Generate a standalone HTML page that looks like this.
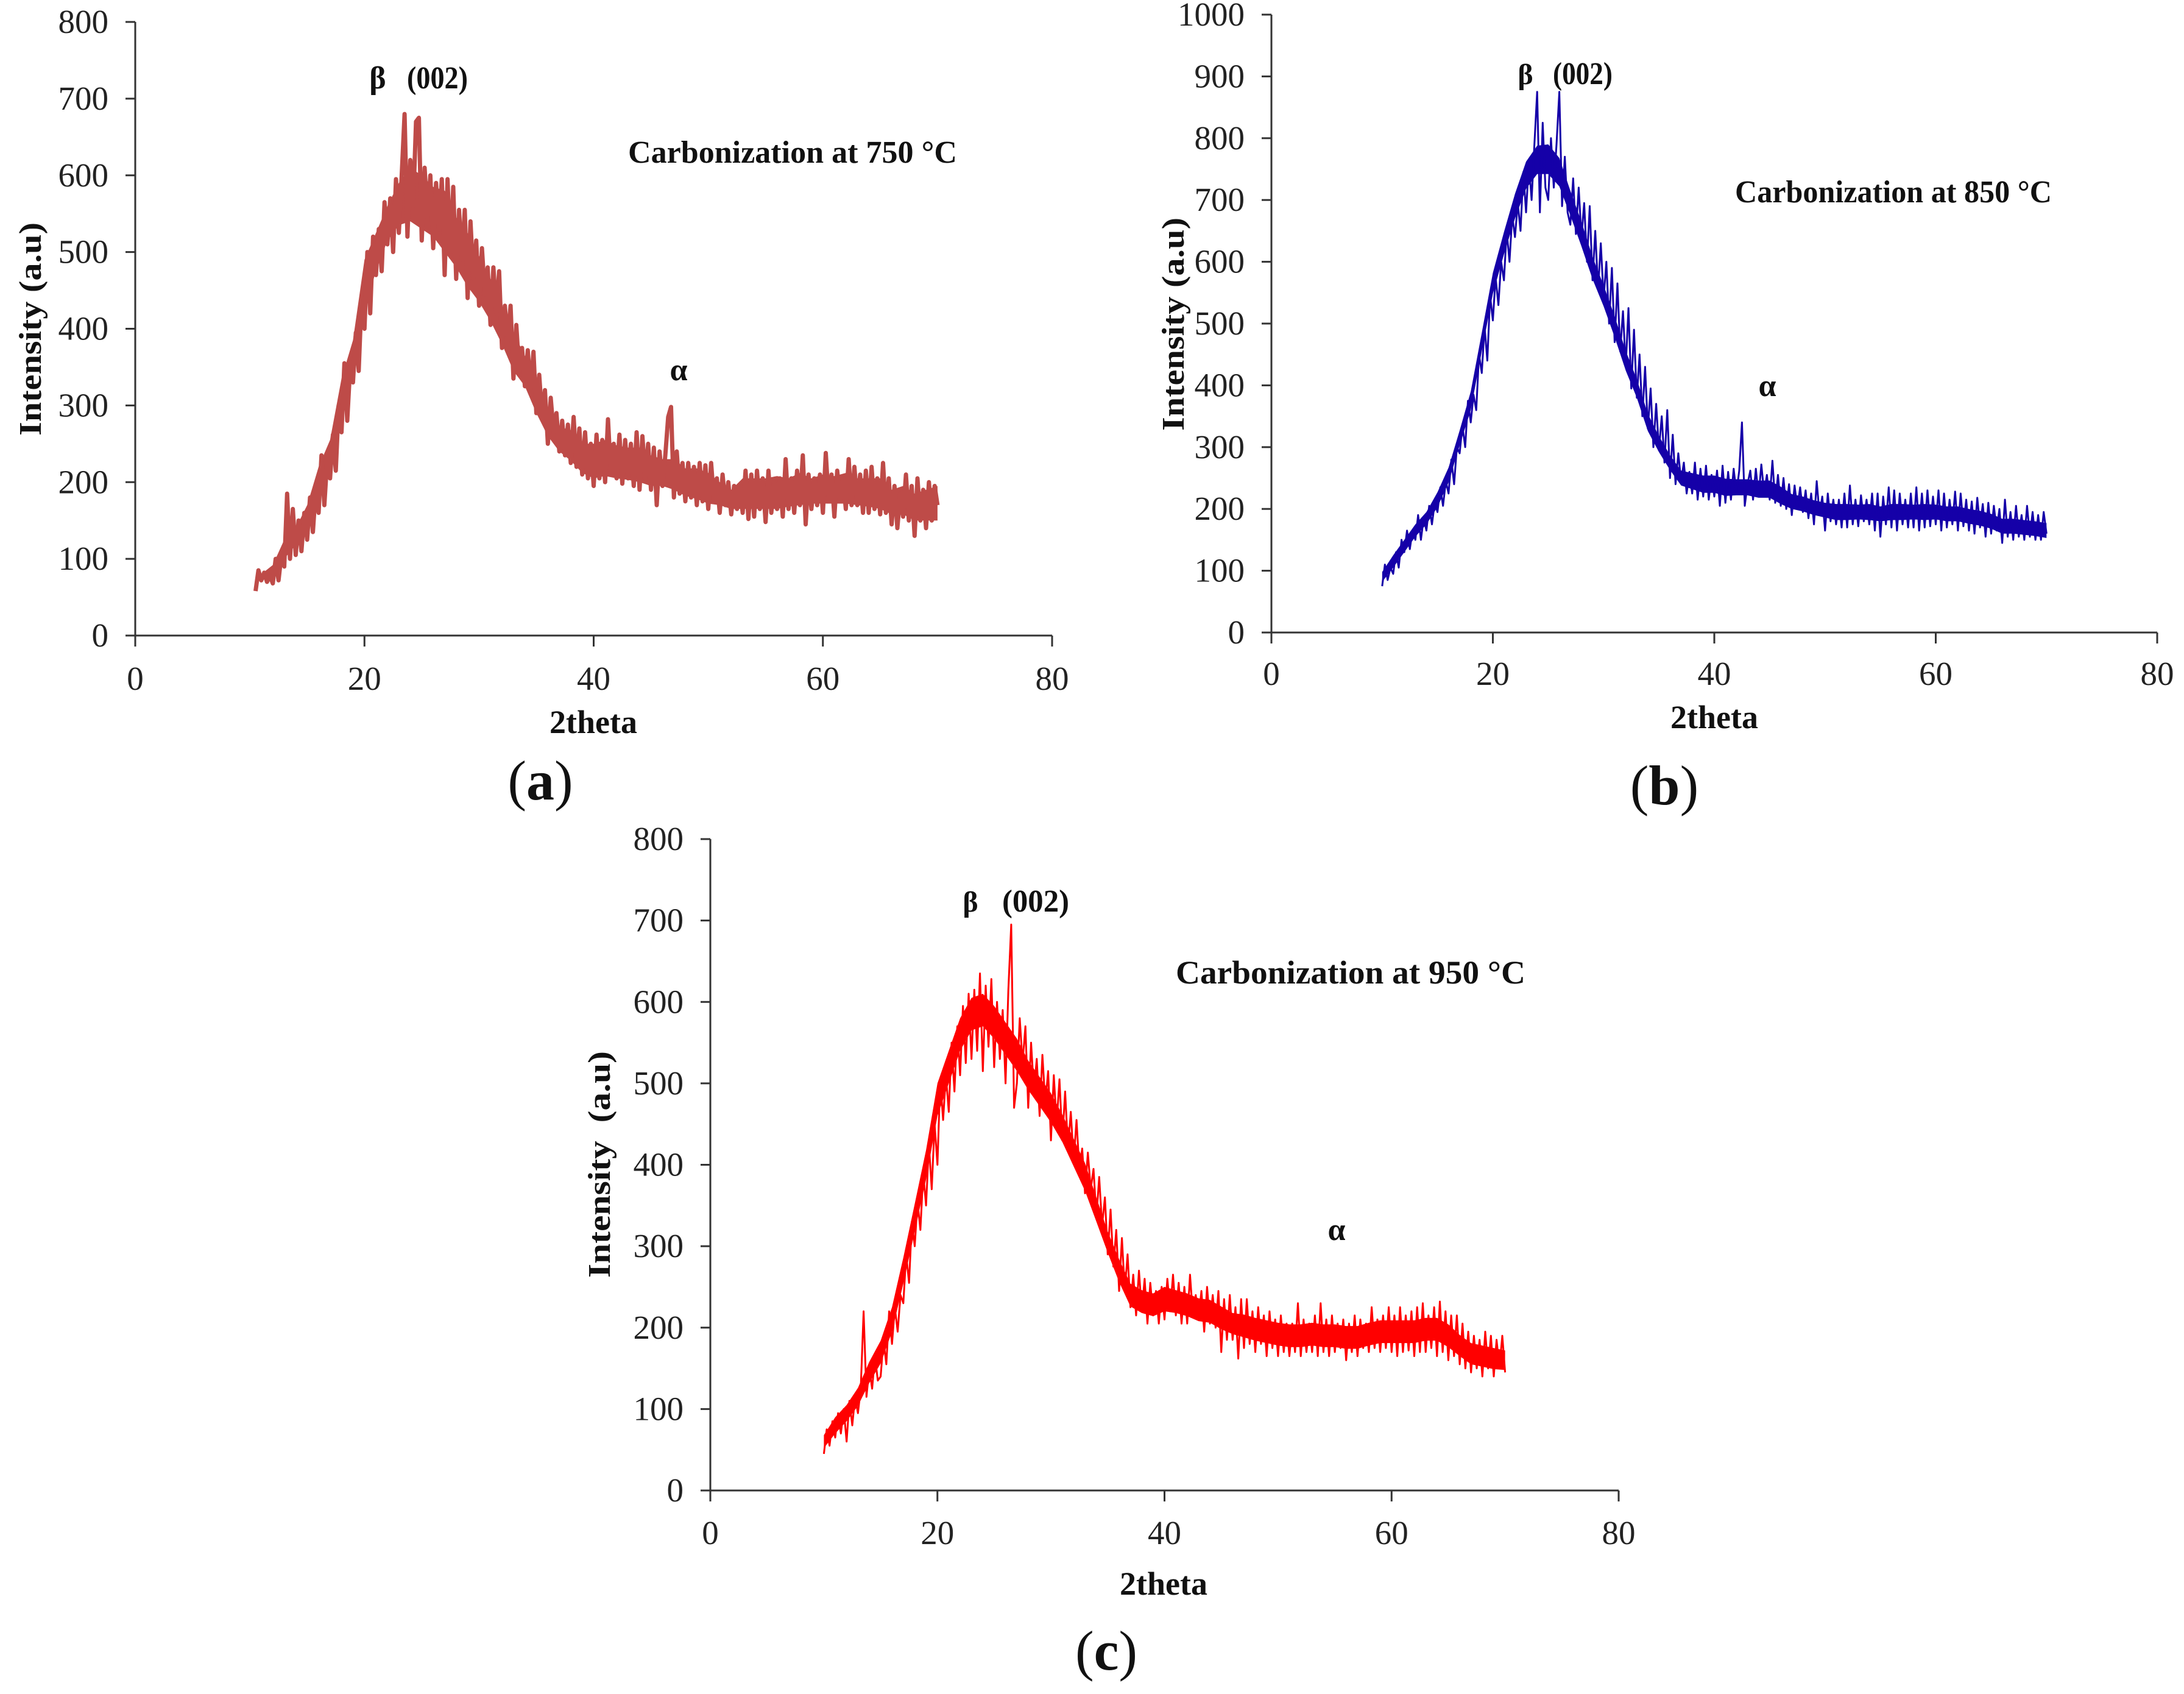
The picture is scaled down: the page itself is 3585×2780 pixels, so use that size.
<!DOCTYPE html>
<html lang="en">
<head>
<meta charset="utf-8">
<title>XRD patterns at three carbonization temperatures</title>
<style>
html,body{margin:0;padding:0;background:#fff;}
#figure{display:block;width:3585px;height:2780px;background:#fff;}
text{font-family:"Liberation Serif","DejaVu Serif",serif;fill:#111;}
.tick{font-size:55px;fill:#222;}
.bold{font-weight:bold;}
</style>
</head>
<body>
<svg id="figure" xmlns="http://www.w3.org/2000/svg" width="3585" height="2780" viewBox="0 0 3585 2780">

<g id="panel-a"></g>
<g id="panel-b"></g>
<g id="panel-c"></g>

<!-- Panel a text -->
<text class="bold" font-size="52" text-anchor="middle" transform="translate(67,540) rotate(-90)" textLength="350" lengthAdjust="spacingAndGlyphs">Intensity (a.u)</text>
<text class="bold" font-size="54" text-anchor="middle" x="974" y="1203">2theta</text>
<text class="bold" font-size="52" text-anchor="middle" x="620" y="145">β</text>
<text class="bold" font-size="52" text-anchor="middle" x="718" y="145" textLength="100" lengthAdjust="spacingAndGlyphs">(002)</text>
<text class="bold" font-size="52" text-anchor="middle" x="1114" y="624">α</text>
<text class="bold" font-size="52" x="1031" y="267" textLength="540" lengthAdjust="spacingAndGlyphs">Carbonization at 750 °C</text>
<text font-size="92" text-anchor="middle" x="887" y="1312">(<tspan class="bold">a</tspan>)</text>

<!-- Panel b text -->
<text class="bold" font-size="52" text-anchor="middle" transform="translate(1943,532) rotate(-90)" textLength="350" lengthAdjust="spacingAndGlyphs">Intensity (a.u)</text>
<text class="bold" font-size="54" text-anchor="middle" x="2814" y="1195">2theta</text>
<text class="bold" font-size="48" text-anchor="middle" x="2504" y="138">β</text>
<text class="bold" font-size="52" text-anchor="middle" x="2598" y="138" textLength="98" lengthAdjust="spacingAndGlyphs">(002)</text>
<text class="bold" font-size="52" text-anchor="middle" x="2901" y="650">α</text>
<text class="bold" font-size="52" x="2848" y="332" textLength="520" lengthAdjust="spacingAndGlyphs">Carbonization at 850 °C</text>
<text font-size="92" text-anchor="middle" x="2732" y="1320">(<tspan class="bold">b</tspan>)</text>

<!-- Panel c text -->
<text class="bold" font-size="52" text-anchor="middle" transform="translate(1001,1911) rotate(-90)" textLength="372" lengthAdjust="spacingAndGlyphs" xml:space="preserve">Intensity  (a.u)</text>
<text class="bold" font-size="54" text-anchor="middle" x="1910" y="2617">2theta</text>
<text class="bold" font-size="48" text-anchor="middle" x="1593" y="1496">β</text>
<text class="bold" font-size="52" text-anchor="middle" x="1700" y="1496" textLength="110" lengthAdjust="spacingAndGlyphs">(002)</text>
<text class="bold" font-size="52" text-anchor="middle" x="2194" y="2035">α</text>
<text class="bold" font-size="54" x="1930" y="1614" textLength="574" lengthAdjust="spacingAndGlyphs">Carbonization at 950 °C</text>
<text font-size="92" text-anchor="middle" x="1816" y="2740">(<tspan class="bold">c</tspan>)</text>
</svg>

<script>
const xTicks = [0, 20, 40, 60, 80];
const yTicks800 = [0, 100, 200, 300, 400, 500, 600, 700, 800];
const yTicks1000 = [0, 100, 200, 300, 400, 500, 600, 700, 800, 900, 1000];

const twoTheta = [
10,10.25,10.5,10.75,11,11.25,11.5,11.75,12,12.25,12.5,12.75,13,13.25,13.5,13.75,14,14.25,14.5,14.75,
15,15.25,15.5,15.75,16,16.25,16.5,16.75,17,17.25,17.5,17.75,18,18.25,18.5,18.75,19,19.25,19.5,19.75,
20,20.25,20.5,20.75,21,21.25,21.5,21.75,22,22.25,22.5,22.75,23,23.25,23.5,23.75,24,24.25,24.5,24.75,
25,25.25,25.5,25.75,26,26.25,26.5,26.75,27,27.25,27.5,27.75,28,28.25,28.5,28.75,29,29.25,29.5,29.75,
30,30.25,30.5,30.75,31,31.25,31.5,31.75,32,32.25,32.5,32.75,33,33.25,33.5,33.75,34,34.25,34.5,34.75,
35,35.25,35.5,35.75,36,36.25,36.5,36.75,37,37.25,37.5,37.75,38,38.25,38.5,38.75,39,39.25,39.5,39.75,
40,40.25,40.5,40.75,41,41.25,41.5,41.75,42,42.25,42.5,42.75,43,43.25,43.5,43.75,44,44.25,44.5,44.75,
45,45.25,45.5,45.75,46,46.25,46.5,46.75,47,47.25,47.5,47.75,48,48.25,48.5,48.75,49,49.25,49.5,49.75,
50,50.25,50.5,50.75,51,51.25,51.5,51.75,52,52.25,52.5,52.75,53,53.25,53.5,53.75,54,54.25,54.5,54.75,
55,55.25,55.5,55.75,56,56.25,56.5,56.75,57,57.25,57.5,57.75,58,58.25,58.5,58.75,59,59.25,59.5,59.75,
60,60.25,60.5,60.75,61,61.25,61.5,61.75,62,62.25,62.5,62.75,63,63.25,63.5,63.75,64,64.25,64.5,64.75,
65,65.25,65.5,65.75,66,66.25,66.5,66.75,67,67.25,67.5,67.75,68,68.25,68.5,68.75,69,69.25,69.5,69.75,
70];

const intensityA = [
null,null,58,85, 72,82,70,78, 68,100,72,105, 90,185,100,165, 105,150,110,160,
125,180,135,190, 160,235,170,230, 205,262,215,300, 265,355,280,350, 330,395,345,440,
400,500,420,520, 470,530,475,565, 510,570,500,595, 525,600,680,520, 620,560,670,675,
515,610,545,600, 505,590,530,595, 470,595,500,585, 465,555,490,555, 440,540,465,515,
430,505,445,480, 405,480,420,475, 375,430,385,430, 335,405,345,375, 325,372,320,370,
290,340,285,320, 250,310,265,290, 240,280,235,275, 225,285,220,270, 210,265,205,250,
195,262,205,255, 200,282,210,250, 205,262,198,255, 205,250,195,265, 190,260,205,250,
190,245,170,240, 195,235,285,298, 180,240,185,225, 175,225,180,220, 170,225,175,222,
165,225,175,205, 160,210,170,200, 158,195,165,195, 160,215,152,210, 155,215,165,205,
148,215,160,200, 165,205,155,230, 165,205,160,215, 170,235,145,210, 165,205,170,210,
160,238,175,210, 155,215,175,205, 165,230,170,220, 170,210,160,215, 160,220,165,205,
158,225,160,205, 145,195,140,185, 155,210,150,195, 130,205,150,190, 140,200,150,195,
170];

const intensityB = [
75,110,85,105, 95,130,105,150, 130,165,135,165, 150,190,150,185, 165,205,175,210,
195,235,205,245, 225,280,240,300, 290,335,300,375, 340,385,360,450, 420,495,440,545,
505,575,530,600, 570,650,600,675, 640,695,650,745, 680,760,700,790, 875,680,825,720,
700,800,720,790, 875,690,770,680, 660,735,645,720, 640,695,600,690, 570,650,555,630,
540,600,500,590, 470,565,455,520, 430,525,395,490, 380,450,350,430, 330,395,300,370,
295,350,275,360, 250,320,240,290, 245,275,225,260, 225,275,215,265, 220,270,215,255,
220,262,205,270, 210,260,215,265, 225,262,340,205, 240,262,215,265, 220,272,225,255,
215,278,210,255, 205,250,200,240, 190,238,200,235, 195,230,185,225, 175,245,190,220,
165,225,180,215, 175,215,170,225, 170,238,175,215, 172,222,180,215, 175,225,165,225,
155,220,175,235, 170,230,165,225, 175,215,170,225, 170,235,165,225, 170,230,172,220,
175,230,165,225, 170,215,175,228, 165,225,172,215, 165,212,160,218, 170,208,155,210,
160,205,165,200, 145,215,155,195, 150,205,155,190, 150,205,155,195, 150,190,150,195,
160];

const intensityC = [
45,75,55,85, 65,95,70,100, 60,110,80,115, 95,125,220,115, 150,125,165,135,
140,185,155,220, 180,225,195,240, 230,290,255,330, 300,355,320,390, 350,425,370,450,
400,505,455,510, 465,550,490,570, 510,595,525,610, 530,615,540,635, 515,620,545,628,
520,600,530,590, 500,615,695,470, 500,580,525,570, 470,550,490,530, 460,535,475,515,
430,510,450,505, 430,490,420,465, 405,455,395,420, 365,415,370,395, 335,385,325,360,
290,345,275,320, 245,310,245,290, 225,265,215,270, 220,260,205,255, 215,245,205,250,
210,260,220,265, 215,255,205,250, 205,265,215,240, 210,245,195,250, 205,240,200,245,
170,235,185,240, 185,225,162,235, 175,235,180,220, 170,225,180,215, 165,220,175,210,
165,215,170,205, 165,205,170,230, 165,210,170,205, 170,215,165,230, 170,210,165,215,
170,205,175,210, 160,205,170,215, 165,210,175,205, 170,225,175,210, 170,215,175,225,
170,215,165,225, 170,215,172,220, 165,225,170,230, 170,215,175,225, 165,232,170,220,
160,215,165,215, 155,205,150,195, 145,190,150,185, 140,195,150,190, 140,185,150,190,
145];

/* Solid core of each noisy band, read at whole-degree angles */
const coreTheta = [
10,11,12,13,14,15,16,17,18,19,20,21,22,23,24,25,26,27,28,29,
30,31,32,33,34,35,36,37,38,39,40,41,42,43,44,45,46,47,48,49,
50,51,52,53,54,55,56,57,58,59,60,61,62,63,64,65,66,67,68,69,70];

const coreLowA = [
null,72,80,100,118,140,172,215,280,345,425,475,515,535,540,530,520,500,480,455,
435,410,380,345,325,290,260,240,228,212,205,208,205,203,200,195,195,190,182,178,
172,170,165,165,165,165,165,168,170,172,172,172,172,170,168,165,158,158,150,150,150];
const coreHighA = [
null,80,92,125,140,170,220,255,335,385,490,525,560,590,610,600,585,580,545,525,
495,465,425,395,365,330,295,272,268,250,250,255,248,245,245,235,230,230,218,218,
212,200,190,205,205,205,208,205,212,205,210,208,212,205,205,205,190,195,185,190,195];

const coreLowB = [
82,105,130,155,175,203,243,303,360,455,548,612,670,718,742,742,722,675,625,572,
528,478,424,380,326,292,263,238,232,226,226,221,222,222,218,218,208,200,196,190,
186,182,182,183,182,180,182,182,183,182,183,180,180,176,173,168,160,160,158,156,153];
const coreHighB = [
98,125,150,175,195,227,267,327,390,485,582,648,710,762,788,790,768,715,665,608,
562,512,456,410,354,318,287,262,258,254,254,249,248,248,246,246,236,224,220,214,
210,208,208,207,208,204,208,208,207,208,207,204,204,200,197,192,184,184,182,180,177];

const coreLowC = [
52,70,85,104,132,156,195,254,318,382,460,500,540,565,570,555,535,515,492,472,
452,428,398,368,330,292,256,226,218,214,220,218,214,208,206,198,192,188,184,181,
178,176,176,178,176,176,174,174,178,181,181,181,181,184,184,176,165,155,152,149,148];
const coreHighC = [
68,90,105,126,158,184,225,286,352,418,500,540,580,605,610,595,575,555,528,508,
488,462,432,402,360,318,284,254,246,242,250,246,242,236,234,226,218,216,212,209,
206,204,204,206,204,204,202,202,206,209,209,209,209,212,212,204,191,181,178,175,172];

const SVG_NS = 'http://www.w3.org/2000/svg';

function makeScale(d0, d1, r0, r1) {
  return function (v) { return r0 + (v - d0) / (d1 - d0) * (r1 - r0); };
}

function addLine(parent, x1, y1, x2, y2) {
  const el = document.createElementNS(SVG_NS, 'line');
  el.setAttribute('x1', x1);
  el.setAttribute('y1', y1);
  el.setAttribute('x2', x2);
  el.setAttribute('y2', y2);
  el.setAttribute('stroke', '#333');
  el.setAttribute('stroke-width', '3');
  parent.appendChild(el);
  return el;
}

function addTickText(parent, x, y, anchor, label) {
  const el = document.createElementNS(SVG_NS, 'text');
  el.setAttribute('x', x);
  el.setAttribute('y', y);
  el.setAttribute('text-anchor', anchor);
  el.setAttribute('class', 'tick');
  el.textContent = label;
  parent.appendChild(el);
  return el;
}

function drawPanel(id, values, coreLow, coreHigh, yTicks, box) {
  const g = document.getElementById(id);
  const sx = makeScale(0, 80, box.x0, box.x80);
  const sy = makeScale(0, yTicks[yTicks.length - 1], box.y0, box.yTop);

  const yAxis = addLine(g, box.x0, box.y0, box.x0, box.yTop);
  
  
  const xAxis = addLine(g, box.x0, box.y0, box.x80, box.y0);
  
  

  yTicks.forEach(function (t) {
    const mark = addLine(g, box.x0 - 16, sy(t), box.x0, sy(t));
    
    
    const label = addTickText(g, box.x0 - 44, sy(t) + 18, 'end', String(t));
    
    
  });

  xTicks.forEach(function (t) {
    const mark = addLine(g, sx(t), box.y0, sx(t), box.y0 + 18);
    
    
    const label = addTickText(g, sx(t), box.tickBase, 'middle', String(t));
    
    
  });

  const upper = [];
  const lower = [];
  coreTheta.forEach(function (th, i) {
    if (coreLow[i] !== null && coreHigh[i] !== null) {
      upper.push(sx(th).toFixed(1) + ',' + sy(coreHigh[i]).toFixed(1));
      lower.unshift(sx(th).toFixed(1) + ',' + sy(coreLow[i]).toFixed(1));
    }
  });
  const core = document.createElementNS(SVG_NS, 'polygon');
  
  
  core.setAttribute('points', upper.concat(lower).join(' '));
  core.setAttribute('fill', box.color);
  g.appendChild(core);

  const pts = [];
  twoTheta.forEach(function (th, i) {
    if (values[i] !== null && values[i] !== undefined) {
      pts.push(sx(th).toFixed(1) + ',' + sy(values[i]).toFixed(1));
    }
  });
  const line = document.createElementNS(SVG_NS, 'polyline');
  
  
  line.setAttribute('points', pts.join(' '));
  line.setAttribute('fill', 'none');
  line.setAttribute('stroke', box.color);
  line.setAttribute('stroke-width', box.width);
  line.setAttribute('stroke-linejoin', 'round');
  g.appendChild(line);
}

drawPanel('panel-a', intensityA, coreLowA, coreHighA, yTicks800,
  {x0: 222, x80: 1727, y0: 1043, yTop: 36, tickBase: 1132, color: '#BE4B48', width: 7});
drawPanel('panel-b', intensityB, coreLowB, coreHighB, yTicks1000,
  {x0: 2087, x80: 3541, y0: 1038, yTop: 24, tickBase: 1124, color: '#1500A8', width: 3});
drawPanel('panel-c', intensityC, coreLowC, coreHighC, yTicks800,
  {x0: 1166, x80: 2657, y0: 2446, yTop: 1377, tickBase: 2534, color: '#FF0000', width: 3});
</script>
</body>
</html>
